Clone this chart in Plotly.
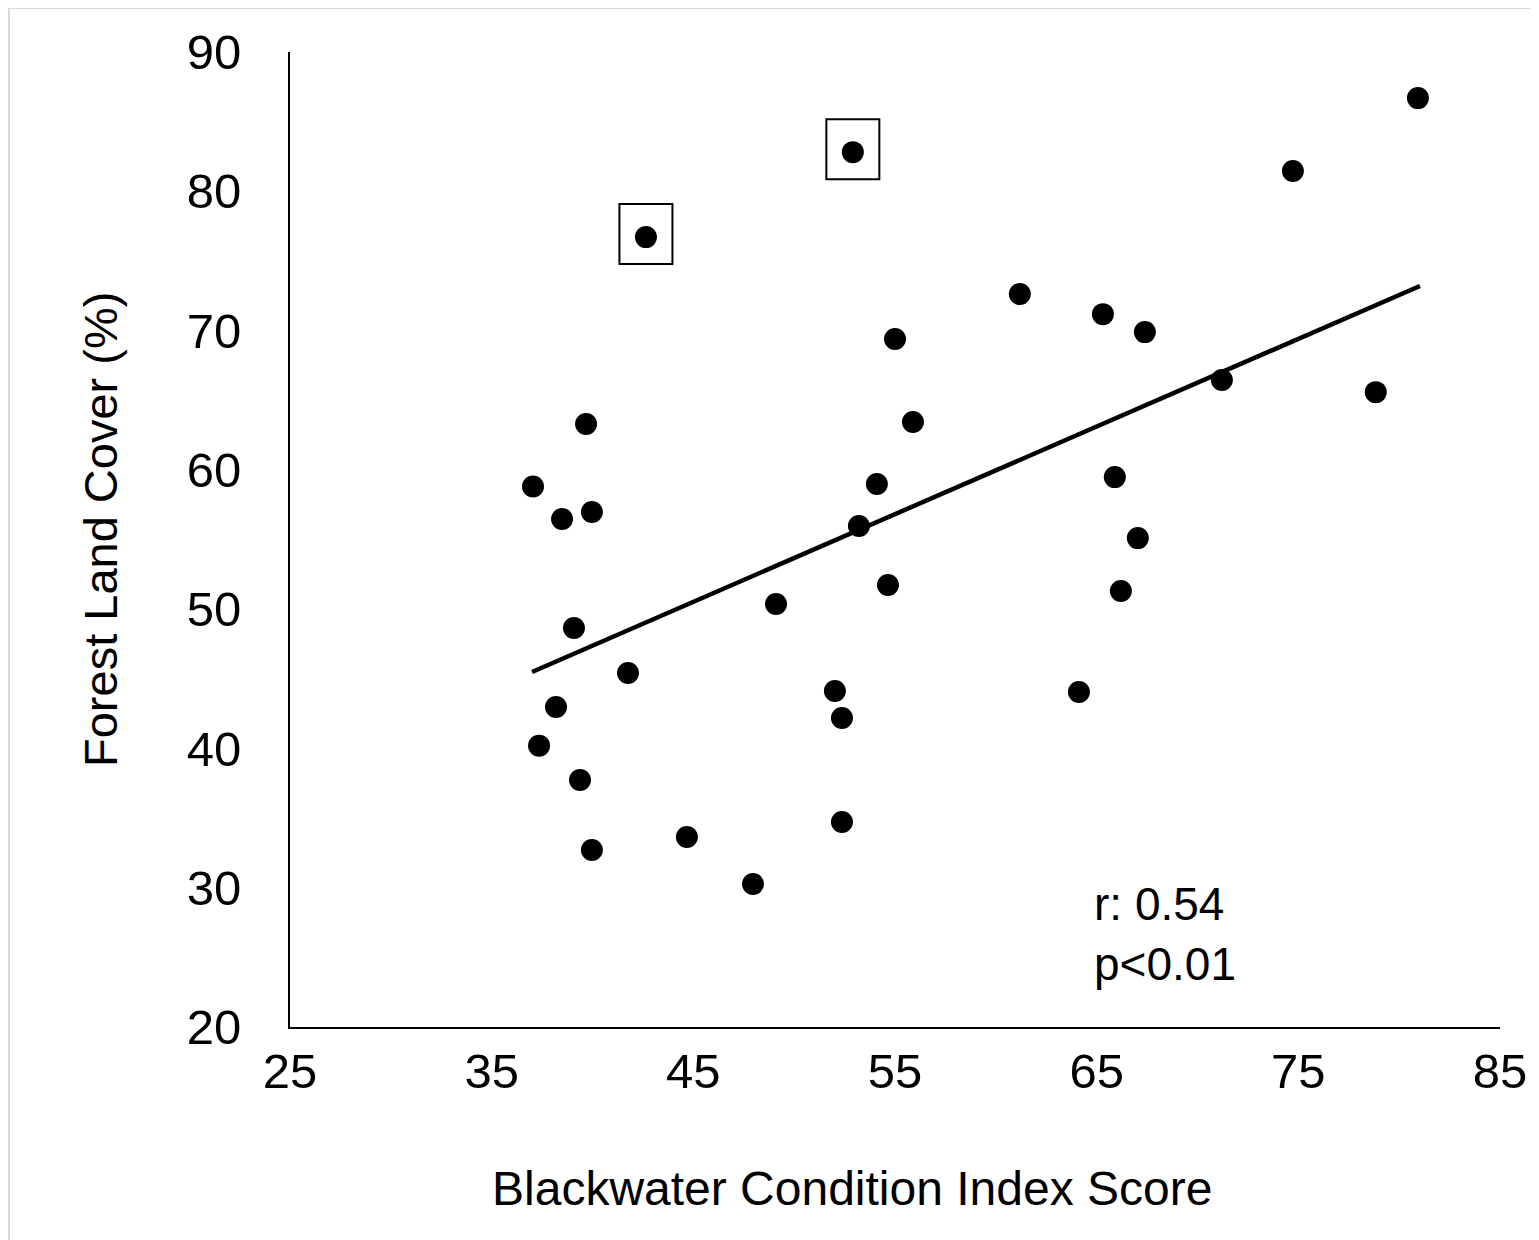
import plotly.graph_objects as go

# Data
bci_score = [37.05, 37.35, 38.19, 38.49, 39.08, 39.38, 39.68, 39.97, 39.97, 41.76,
             42.65, 44.68, 47.96, 49.10, 52.02, 52.37, 52.37, 52.91, 53.21, 54.10,
             54.65, 55.00, 55.89, 61.19, 64.12, 65.31, 65.90, 66.20, 67.04, 67.39,
             71.21, 74.73, 78.84, 80.93]
forest_cover = [58.8, 40.2, 42.97, 56.47, 48.64, 37.73, 63.29, 56.97, 32.71, 45.41,
                76.71, 33.64, 30.27, 50.37, 44.12, 42.18, 34.72, 82.81, 55.97, 58.98,
                51.73, 69.39, 63.43, 72.62, 44.05, 71.18, 59.48, 51.3, 55.1, 69.89,
                66.45, 81.45, 65.58, 86.69]

highlight_x = [42.65, 52.91]
highlight_y = [76.71, 82.81]

trend_x = [37.0, 81.03]
trend_y = [45.49, 73.2]

x_ticks = [25, 35, 45, 55, 65, 75, 85]
y_ticks = [20, 30, 40, 50, 60, 70, 80, 90]

stats_text = "r: 0.54<br>p&lt;0.01"
x_title = "Blackwater Condition Index Score"
y_title = "Forest Land Cover (%)"

FONT = "Liberation Sans, Arial, sans-serif"

# plot area in figure pixels
L, R, T, B = 282, 47, 44, 221
PW, PH = 1539 - L - R, 1240 - T - B


def px_x(v):
    return (v - L) / PW


def px_y(v):
    return (1240 - B - v) / PH


fig = go.Figure()
fig.add_trace(go.Scatter(x=bci_score, y=forest_cover, mode="markers",
                         marker=dict(color="black", size=22, line=dict(width=0)),
                         showlegend=False, cliponaxis=False))
fig.add_trace(go.Scatter(x=trend_x, y=trend_y, mode="lines",
                         line=dict(color="black", width=4.5),
                         showlegend=False))

shapes = []
for hx, hy in zip(highlight_x, highlight_y):
    shapes.append(dict(type="rect", xref="x", yref="y",
                       xsizemode="pixel", ysizemode="pixel",
                       xanchor=hx, yanchor=hy,
                       x0=-26.5, x1=26.5, y0=-27, y1=33,
                       line=dict(color="black", width=2),
                       fillcolor="rgba(0,0,0,0)"))
# light grey frame around the picture
shapes.append(dict(type="rect", xref="paper", yref="paper",
                   x0=px_x(1), x1=px_x(1530),
                   y0=px_y(1260), y1=px_y(0),
                   line=dict(color="#d9d9d9", width=2),
                   fillcolor="rgba(0,0,0,0)", layer="below"))

annotations = [
    dict(text=stats_text, x=64.76, y=26.7, xref="x", yref="y",
         xanchor="left", yanchor="middle", align="left", showarrow=False,
         font=dict(family=FONT, size=46, color="black")),
    dict(text=x_title, x=px_x(852 - 8), y=px_y(1188 - 8),
         xref="paper", yref="paper", xanchor="center", yanchor="middle",
         showarrow=False, font=dict(family=FONT, size=48, color="black")),
    dict(text=y_title, x=px_x(100 - 8), y=px_y(530 - 8),
         xref="paper", yref="paper", xanchor="center", yanchor="middle",
         textangle=-90, showarrow=False,
         font=dict(family=FONT, size=47, color="black")),
]

fig.update_layout(
    width=1539, height=1240,
    margin=dict(l=L, r=R, t=T, b=B),
    paper_bgcolor="white", plot_bgcolor="white",
    font=dict(family=FONT, color="black"),
    shapes=shapes, annotations=annotations,
    xaxis=dict(range=[25, 85], tickvals=x_ticks, showgrid=False, zeroline=False,
               showline=True, linecolor="black", linewidth=2, ticks="",
               ticklabelstandoff=0,
               tickfont=dict(family=FONT, size=49, color="black")),
    yaxis=dict(range=[20, 90], tickvals=y_ticks, showgrid=False, zeroline=False,
               showline=True, linecolor="black", linewidth=2, ticks="",
               ticklabelstandoff=37,
               tickfont=dict(family=FONT, size=49, color="black")),
)

fig.write_html("out.html")
